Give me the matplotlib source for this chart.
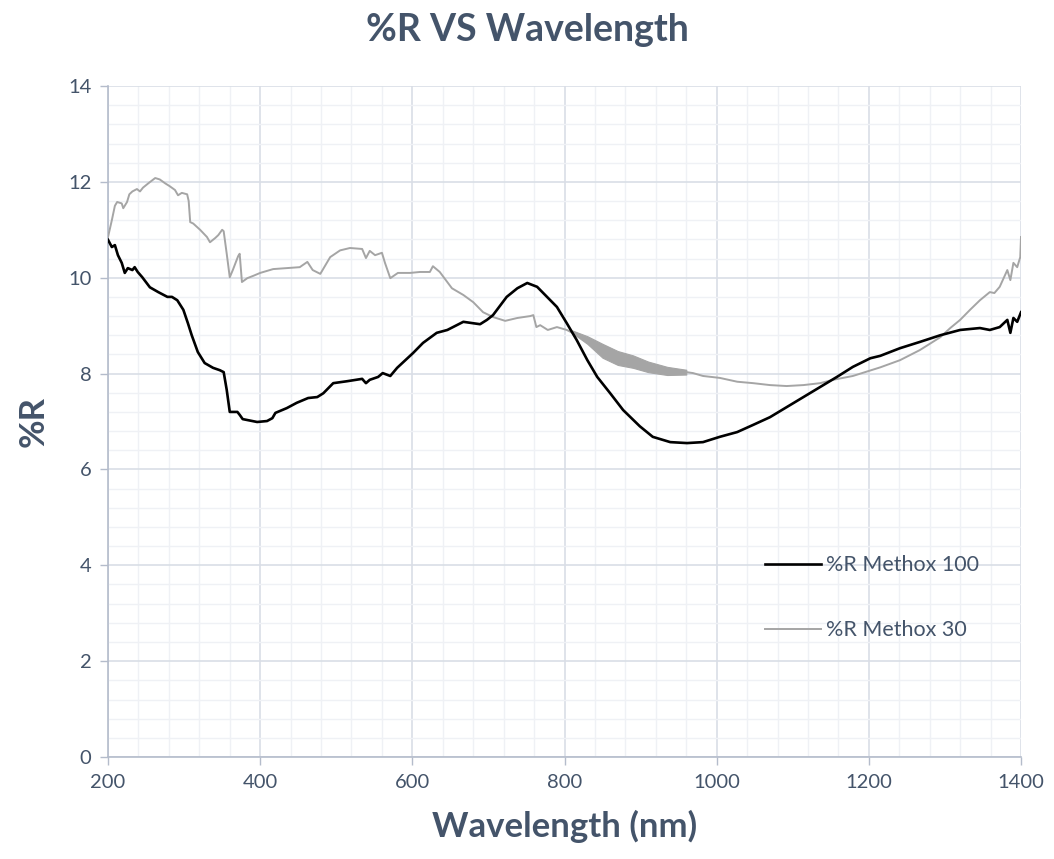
import matplotlib
matplotlib.use("Agg")
import matplotlib.pyplot as plt
from matplotlib.ticker import MultipleLocator

# Reflectance spectra (%R) of the two Methox samples
wl_m100 = [200, 205, 209, 213, 218, 222, 226, 232, 235, 239, 245, 255, 266, 278, 284,
           291, 299, 305, 310, 318, 327, 338, 347, 352, 356, 360, 370, 373, 377, 396,
           409, 416, 420, 435, 448, 463, 475, 483, 496, 514, 534, 539, 544, 555, 561,
           571, 580, 601, 614, 632, 646, 667, 680, 689, 698, 706, 724, 738, 751, 764,
           777, 790, 803, 816, 830, 843, 860, 877, 899, 916, 939, 961, 982, 1004, 1027,
           1048, 1070, 1092, 1114, 1136, 1158, 1179, 1202, 1215, 1241, 1267, 1294, 1320,
           1346, 1359, 1372, 1382, 1386, 1390, 1395, 1400]
r_m100 = [10.79, 10.64, 10.68, 10.47, 10.31, 10.10, 10.20, 10.16, 10.22, 10.12, 10.01,
          9.80, 9.70, 9.60, 9.60, 9.53, 9.33, 9.05, 8.80, 8.45, 8.22, 8.12, 8.07, 8.03,
          7.66, 7.20, 7.20, 7.14, 7.05, 6.99, 7.01, 7.07, 7.18, 7.28, 7.39, 7.49, 7.51,
          7.59, 7.80, 7.84, 7.89, 7.80, 7.87, 7.93, 8.01, 7.95, 8.12, 8.43, 8.64, 8.85,
          8.91, 9.08, 9.05, 9.03, 9.12, 9.22, 9.60, 9.78, 9.89, 9.81, 9.60, 9.39, 9.05,
          8.70, 8.28, 7.93, 7.59, 7.24, 6.90, 6.68, 6.57, 6.55, 6.57, 6.68, 6.78, 6.93,
          7.09, 7.30, 7.51, 7.72, 7.93, 8.14, 8.32, 8.37, 8.53, 8.66, 8.80, 8.91, 8.95,
          8.91, 8.97, 9.12, 8.85, 9.16, 9.08, 9.28]

wl_m30 = [200, 205, 209, 212, 218, 220, 225, 228, 232, 238, 242, 246, 253, 262, 268,
          275, 281, 288, 292, 297, 304, 306, 308, 312, 321, 330, 334, 341, 345, 350,
          352, 356, 360, 364, 371, 373, 376, 383, 391, 400, 417, 452, 462, 469, 479,
          492, 505, 518, 534, 539, 544, 551, 560, 564, 571, 581, 597, 610, 623, 627,
          636, 652, 667, 680, 693, 706, 722, 738, 755, 759, 763, 768, 778, 790, 803,
          824, 847, 860, 873, 890, 912, 935, 952, 969, 982, 1004, 1027, 1048, 1070,
          1092, 1114, 1136, 1153, 1179, 1205, 1215, 1241, 1267, 1294, 1307, 1320, 1333,
          1346, 1359, 1365, 1372, 1382, 1386, 1390, 1395, 1399, 1400]
r_m30 = [10.85, 11.20, 11.50, 11.58, 11.55, 11.45, 11.58, 11.74, 11.80, 11.85, 11.80,
         11.88, 11.97, 12.08, 12.05, 11.97, 11.91, 11.83, 11.72, 11.77, 11.74, 11.60,
         11.16, 11.13, 11.00, 10.85, 10.74, 10.83, 10.89, 11.00, 10.97, 10.50, 10.01,
         10.16, 10.45, 10.50, 9.91, 9.99, 10.04, 10.10, 10.18, 10.22, 10.33, 10.16,
         10.08, 10.43, 10.57, 10.62, 10.60, 10.41, 10.56, 10.47, 10.52, 10.31, 9.99,
         10.10, 10.10, 10.12, 10.12, 10.24, 10.12, 9.78, 9.64, 9.49, 9.28, 9.18, 9.10,
         9.16, 9.20, 9.22, 8.97, 9.01, 8.91, 8.97, 8.91, 8.74, 8.50, 8.40, 8.30, 8.25,
         8.15, 8.05, 8.05, 8.01, 7.95, 7.91, 7.83, 7.80, 7.76, 7.74, 7.76, 7.80, 7.87,
         7.95, 8.08, 8.13, 8.28, 8.49, 8.76, 8.95, 9.12, 9.33, 9.53, 9.70, 9.68, 9.81,
         10.16, 9.95, 10.31, 10.22, 10.43, 10.85]

# Spread of the noisy Methox 30 readings between 810 and 960 nm
wl_m30_band = [810, 830, 850, 870, 890, 910, 935, 960]
r_m30_band_hi = [8.90, 8.78, 8.62, 8.47, 8.38, 8.25, 8.14, 8.08]
r_m30_band_lo = [8.85, 8.62, 8.33, 8.18, 8.12, 8.03, 7.97, 7.98]

series_labels = ["%R Methox 100", "%R Methox 30"]
x_ticks = [200, 400, 600, 800, 1000, 1200, 1400]
y_ticks = [0, 2, 4, 6, 8, 10, 12, 14]

TEXT = "#44546A"
FONT = ["Lato", "DejaVu Sans"]
plt.rcParams["font.family"] = FONT

fig = plt.figure(figsize=(10.54, 8.59), dpi=100)
ax = fig.add_axes([0.1025, 0.1187, 0.8662, 0.7812])

ax.fill_between(wl_m30_band, r_m30_band_lo, r_m30_band_hi, color="#A5A5A5",
                linewidth=0.8, zorder=3)
ax.plot(wl_m100, r_m100, color="black", linewidth=1.9, label=series_labels[0], zorder=4)
ax.plot(wl_m30, r_m30, color="#A5A5A5", linewidth=1.4, label=series_labels[1], zorder=3)

ax.set_xlim(200, 1400)
ax.set_ylim(0, 14)
ax.set_xticks(x_ticks)
ax.set_yticks(y_ticks)
ax.xaxis.set_minor_locator(MultipleLocator(40))
ax.yaxis.set_minor_locator(MultipleLocator(0.4))

ax.grid(which="major", color="#D9DEE6", linewidth=1.2, zorder=0)
ax.grid(which="minor", color="#EFF1F5", linewidth=1.0, zorder=0)
ax.set_axisbelow(True)

for side in ("top", "right"):
    ax.spines[side].set_visible(False)
for side in ("left", "bottom"):
    ax.spines[side].set_color("#B4BCCB")
    ax.spines[side].set_linewidth(1.2)

ax.tick_params(axis="both", which="major", colors="#B4BCCB", labelcolor=TEXT,
               labelsize=14.5, length=6, width=1.0, pad=6)
ax.tick_params(axis="both", which="minor", length=0)

ax.set_xlabel("Wavelength (nm)", fontsize=25, fontweight="bold", color=TEXT, labelpad=14)
ax.set_ylabel("%R", fontsize=25, fontweight="bold", color=TEXT, labelpad=13)
fig.suptitle("%R VS Wavelength", fontsize=27, fontweight="bold", color=TEXT,
             x=0.5, y=0.985)

leg = ax.legend(loc="upper left", bbox_to_anchor=(0.72, 0.301), frameon=False,
                fontsize=15.5, handlelength=2.6, handletextpad=0.22,
                labelspacing=2.1, borderpad=0, borderaxespad=0)
for t in leg.get_texts():
    t.set_color(TEXT)

fig.savefig("out.png", dpi=100, facecolor="white")
